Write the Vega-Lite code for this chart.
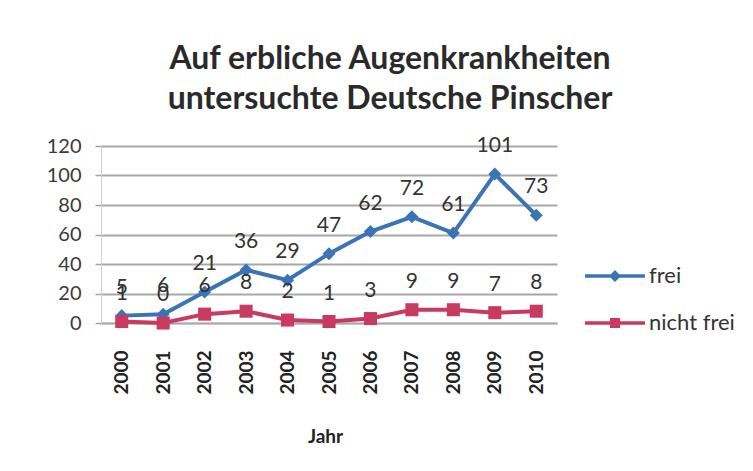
{
  "$schema": "https://vega.github.io/schema/vega-lite/v6.json",
  "width": 456,
  "height": 177,
  "autosize": "none",
  "padding": {"left": 101, "top": 146, "right": 196, "bottom": 148},
  "background": "white",
  "title": {
    "text": ["Auf erbliche Augenkrankheiten", "untersuchte Deutsche Pinscher"],
    "font": "Lato",
    "fontWeight": "bold",
    "fontSize": 32,
    "lineHeight": 40,
    "color": "#2a2a2a",
    "anchor": "middle",
    "frame": "group",
    "dx": 61,
    "offset": 19
  },
  "data": {
    "values": [
      {"Jahr": "2000", "Serie": "frei", "Anzahl": 5},
      {"Jahr": "2001", "Serie": "frei", "Anzahl": 6},
      {"Jahr": "2002", "Serie": "frei", "Anzahl": 21},
      {"Jahr": "2003", "Serie": "frei", "Anzahl": 36},
      {"Jahr": "2004", "Serie": "frei", "Anzahl": 29},
      {"Jahr": "2005", "Serie": "frei", "Anzahl": 47},
      {"Jahr": "2006", "Serie": "frei", "Anzahl": 62},
      {"Jahr": "2007", "Serie": "frei", "Anzahl": 72},
      {"Jahr": "2008", "Serie": "frei", "Anzahl": 61},
      {"Jahr": "2009", "Serie": "frei", "Anzahl": 101},
      {"Jahr": "2010", "Serie": "frei", "Anzahl": 73},
      {"Jahr": "2000", "Serie": "nicht frei", "Anzahl": 1},
      {"Jahr": "2001", "Serie": "nicht frei", "Anzahl": 0},
      {"Jahr": "2002", "Serie": "nicht frei", "Anzahl": 6},
      {"Jahr": "2003", "Serie": "nicht frei", "Anzahl": 8},
      {"Jahr": "2004", "Serie": "nicht frei", "Anzahl": 2},
      {"Jahr": "2005", "Serie": "nicht frei", "Anzahl": 1},
      {"Jahr": "2006", "Serie": "nicht frei", "Anzahl": 3},
      {"Jahr": "2007", "Serie": "nicht frei", "Anzahl": 9},
      {"Jahr": "2008", "Serie": "nicht frei", "Anzahl": 9},
      {"Jahr": "2009", "Serie": "nicht frei", "Anzahl": 7},
      {"Jahr": "2010", "Serie": "nicht frei", "Anzahl": 8}
    ]
  },
  "encoding": {
    "x": {
      "field": "Jahr",
      "type": "ordinal",
      "title": "Jahr",
      "scale": {"type": "point", "padding": 0.5},
      "axis": {
        "labelAngle": -90,
        "labelFont": "Lato",
        "labelFontSize": 19,
        "labelFontWeight": "bold",
        "labelColor": "#222222",
        "labelPadding": 27,
        "labelBaseline": "middle",
        "ticks": false,
        "domainColor": "#a8a8a8",
        "domainWidth": 1.5,
        "titleFont": "Lato",
        "titleFontSize": 19,
        "titleFontWeight": "bold",
        "titleColor": "#222222",
        "titlePadding": 33,
        "titleAnchor": "middle",
        "titleX": 224
      }
    },
    "y": {
      "field": "Anzahl",
      "type": "quantitative",
      "title": null,
      "scale": {"domain": [0, 120], "nice": false},
      "axis": {
        "values": [0, 20, 40, 60, 80, 100, 120],
        "labelFont": "Lato",
        "labelFontSize": 20,
        "labelColor": "#3a3a3a",
        "labelPadding": 14,
        "tickSize": 6,
        "tickColor": "#a0a0a0",
        "tickWidth": 1.5,
        "domainColor": "#d0d0d0",
        "gridColor": "#a8a8a8",
        "gridWidth": 2
      }
    },
    "color": {
      "field": "Serie",
      "type": "nominal",
      "scale": {"domain": ["frei", "nicht frei"], "range": ["#3b74b4", "#c83a60"]},
      "legend": {
        "orient": "none",
        "legendX": 484,
        "legendY": 100,
        "title": null,
        "labelFont": "Lato",
        "labelFontSize": 22,
        "labelColor": "#333333",
        "labelOffset": 4,
        "rowPadding": 6,
        "symbolSize": 3600,
        "symbolStrokeWidth": 0,
        "encode": {
          "symbols": {
            "update": {
              "shape": {"signal": "datum.label === 'frei' ? 'M-1,-0.06H1V0.06H-1ZM-0.2,0L0,-0.2L0.2,0L0,0.2Z' : 'M-1,-0.06H1V0.06H-1ZM-0.17,-0.17H0.17V0.17H-0.17Z'"},
              "fill": {"signal": "datum.label === 'frei' ? '#3b74b4' : '#c83a60'"},
              "fillOpacity": {"value": 1},
              "strokeWidth": {"value": 0}
            }
          }
        }
      }
    }
  },
  "layer": [
    {
      "mark": {"type": "line", "strokeWidth": 4}
    },
    {
      "transform": [{"filter": "datum.Serie === 'frei'"}],
      "mark": {"type": "point", "shape": "diamond", "filled": true, "opacity": 1, "size": 170}
    },
    {
      "transform": [{"filter": "datum.Serie === 'nicht frei'"}],
      "mark": {"type": "point", "shape": "square", "filled": true, "opacity": 1, "size": 170}
    },
    {
      "mark": {"type": "text", "dy": -28, "font": "Lato", "fontSize": 21, "color": "#333333"},
      "encoding": {
        "text": {"field": "Anzahl", "type": "quantitative"},
        "color": {"value": "#333333"}
      }
    }
  ],
  "config": {
    "view": {"stroke": null},
    "axis": {"grid": false},
    "axisY": {"grid": true}
  }
}
